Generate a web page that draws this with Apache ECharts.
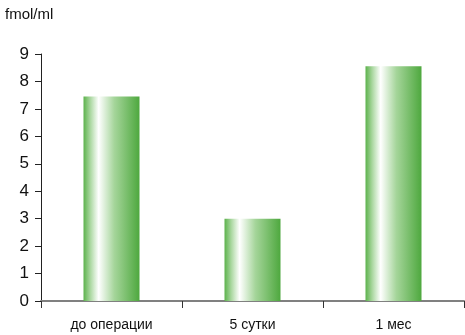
<!DOCTYPE html>
<html><head><meta charset="utf-8">
<script src="https://cdn.jsdelivr.net/npm/echarts@6/dist/echarts.min.js"></script>
<style>html,body{margin:0;padding:0;background:#fff}#c{width:465px;height:335px}</style>
</head><body><div id="c"></div>
<script>
const categories = ['до операции', '5 сутки', '1 мес'];
const values = [7.45, 3.0, 8.55];
const yTicks = [0, 1, 2, 3, 4, 5, 6, 7, 8, 9];
const unitLabel = 'fmol/ml';

const FONT = '"Liberation Sans Narrow", "Arial Narrow", "Liberation Sans", sans-serif';
const chart = echarts.init(document.getElementById('c'), null, {renderer: 'canvas'});
const grad = new echarts.graphic.LinearGradient(0, 0, 1, 0, [
  {offset: 0, color: '#5cb24c'},
  {offset: 0.12, color: '#a9d79f'},
  {offset: 0.27, color: '#ffffff'},
  {offset: 0.55, color: '#a5d59a'},
  {offset: 1, color: '#4ea83e'}
]);
chart.setOption({
  animation: false,
  title: {text: unitLabel, left: 0, top: 2, textStyle: {fontFamily: FONT, fontSize: 15, fontWeight: 'normal', color: '#111'}},
  grid: {left: 41, right: 1, top: 54, bottom: 34, containLabel: false},
  xAxis: {
    type: 'category', data: categories,
    axisLine: {show: true, lineStyle: {color: '#808080', width: 2}},
    axisTick: {show: true, length: 7, lineStyle: {color: '#333', width: 1}},
    axisLabel: {margin: 17, fontFamily: FONT, fontSize: 14, color: '#111'}
  },
  yAxis: {
    type: 'value', min: yTicks[0], max: yTicks[yTicks.length - 1], interval: 1,
    splitLine: {show: false},
    axisLine: {show: true, lineStyle: {color: '#222', width: 1}},
    axisTick: {show: true, length: 6, lineStyle: {color: '#222'}},
    axisLabel: {margin: 12, fontFamily: FONT, fontSize: 17, color: '#111'}
  },
  series: [{
    type: 'bar', data: values, barWidth: 56,
    itemStyle: {color: grad}
  }]
});
</script></body></html>
